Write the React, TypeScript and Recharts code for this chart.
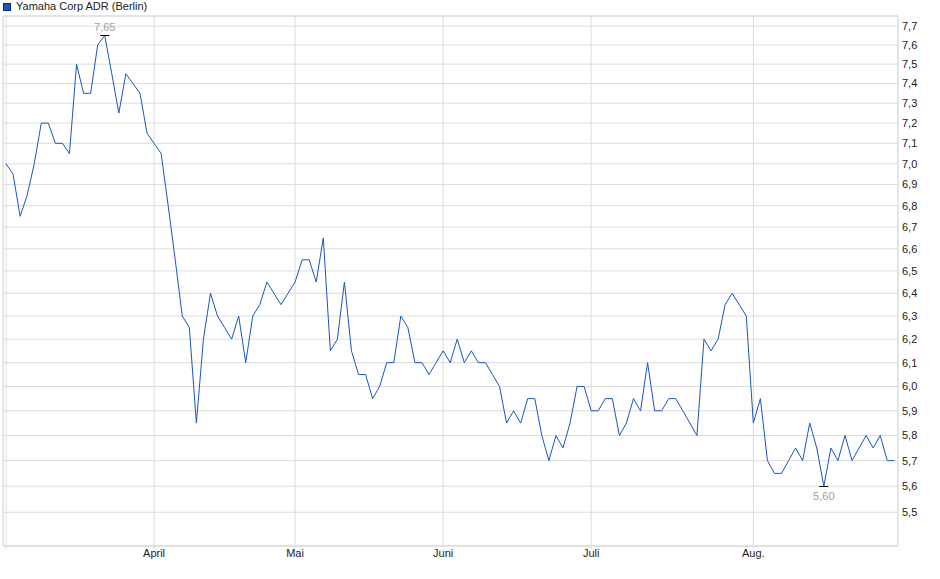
import React from "react";
import {
  LineChart,
  Line,
  XAxis,
  YAxis,
  CartesianGrid,
  ReferenceArea,
} from "recharts";

const TITLE = "Yamaha Corp ADR (Berlin)";

const prices: number[] = [
  7.0, 6.95, 6.75, 6.85, 7.0, 7.2, 7.2, 7.1, 7.1, 7.05,
  7.5, 7.35, 7.35, 7.6, 7.65, 7.45, 7.25, 7.45, 7.4, 7.35,
  7.15, 7.1, 7.05, 6.8, 6.55, 6.3, 6.25, 5.85, 6.2, 6.4,
  6.3, 6.25, 6.2, 6.3, 6.1, 6.3, 6.35, 6.45, 6.4, 6.35,
  6.4, 6.45, 6.55, 6.55, 6.45, 6.65, 6.15, 6.2, 6.45, 6.15,
  6.05, 6.05, 5.95, 6.0, 6.1, 6.1, 6.3, 6.25, 6.1, 6.1,
  6.05, 6.1, 6.15, 6.1, 6.2, 6.1, 6.15, 6.1, 6.1, 6.05,
  6.0, 5.85, 5.9, 5.85, 5.95, 5.95, 5.8, 5.7, 5.8, 5.75,
  5.85, 6.0, 6.0, 5.9, 5.9, 5.95, 5.95, 5.8, 5.85, 5.95,
  5.9, 6.1, 5.9, 5.9, 5.95, 5.95, 5.9, 5.85, 5.8, 6.2,
  6.15, 6.2, 6.35, 6.4, 6.35, 6.3, 5.85, 5.95, 5.7, 5.65,
  5.65, 5.7, 5.75, 5.7, 5.85, 5.75, 5.6, 5.75, 5.7, 5.8,
  5.7, 5.75, 5.8, 5.75, 5.8, 5.7, 5.7,
];

const monthTickIdx: number[] = [0, 21, 41, 62, 83, 106];
const monthLabels: string[] = ["", "April", "Mai", "Juni", "Juli", "Aug."];

const yTicks: number[] = [
  5.5, 5.6, 5.7, 5.8, 5.9, 6.0, 6.1, 6.2, 6.3, 6.4, 6.5, 6.6,
  6.7, 6.8, 6.9, 7.0, 7.1, 7.2, 7.3, 7.4, 7.5, 7.6, 7.7,
];

const X_DOMAIN: [number, number] = [-0.43, 126.52];
const Y_DOMAIN: [number, number] = [5.373, 7.754];

const LINE_COLOR = "#1a56c0";
const GRID_COLOR = "#dcdcdc";
const FONT = "'Liberation Sans', Arial, sans-serif";

const data = prices.map((p, i) => ({ i, price: p }));

const maxIdx = prices.indexOf(Math.max(...prices));
const minIdx = prices.indexOf(Math.min(...prices));

const fmt = (v: number, d = 1) => v.toFixed(d).replace(".", ",");

const ExtremeDot = (props: any) => {
  const { cx, cy, index, value } = props;
  if (index !== maxIdx && index !== minIdx) {
    return <g key={`d${index}`} />;
  }
  const isMax = index === maxIdx;
  return (
    <g key={`d${index}`}>
      <line
        x1={cx - 4.5}
        x2={cx + 4.5}
        y1={Math.round(cy) + (isMax ? -0.5 : 0.5)}
        y2={Math.round(cy) + (isMax ? -0.5 : 0.5)}
        stroke="#000"
        strokeWidth={1}
      />
      <text
        x={cx}
        y={isMax ? cy - 5 : cy + 14}
        textAnchor="middle"
        fill="#a0a0a0"
        fontSize={11}
        fontFamily={FONT}
      >
        {fmt(Array.isArray(value) ? value[1] : value, 2)}
      </text>
    </g>
  );
};

export default function App() {
  return (
    <div
      style={{
        position: "absolute",
        left: 0,
        top: 0,
        width: 940,
        height: 579,
        background: "#fff",
        fontFamily: FONT,
      }}
    >
      <div
        style={{
          position: "absolute",
          left: 3,
          top: 3,
          width: 6,
          height: 6,
          background: LINE_COLOR,
          border: "1px solid #0b2c74",
        }}
      />
      <div
        style={{
          position: "absolute",
          left: 16,
          top: -1,
          fontSize: 11,
          lineHeight: "14px",
          color: "#222",
          whiteSpace: "nowrap",
        }}
      >
        {TITLE}
      </div>
      <LineChart
        width={940}
        height={579}
        data={data}
        margin={{ top: 16, right: 0, bottom: 0, left: 3 }}
      >
        <CartesianGrid stroke={GRID_COLOR} strokeWidth={1} />
        <XAxis
          type="number"
          dataKey="i"
          domain={X_DOMAIN}
          allowDataOverflow
          ticks={monthTickIdx}
          interval={0}
          tickFormatter={(v: number) => monthLabels[monthTickIdx.indexOf(v)] ?? ""}
          height={33}
          tickSize={3}
          tickMargin={0}
          axisLine={{ stroke: GRID_COLOR }}
          tickLine={{ stroke: GRID_COLOR }}
          tick={{ fill: "#222", fontSize: 11, fontFamily: FONT }}
        />
        <YAxis
          orientation="right"
          scale="log"
          domain={Y_DOMAIN}
          allowDataOverflow
          ticks={yTicks}
          interval={0}
          width={42}
          axisLine={false}
          tickLine={false}
          tickSize={2}
          tickMargin={2}
          tickFormatter={(v: number) => fmt(v, 1)}
          tick={{ fill: "#222", fontSize: 11, fontFamily: FONT }}
        />
        <ReferenceArea
          x1={X_DOMAIN[0]}
          x2={X_DOMAIN[1]}
          y1={Y_DOMAIN[0]}
          y2={Y_DOMAIN[1]}
          fill="none"
          stroke={GRID_COLOR}
          strokeWidth={1}
          ifOverflow="visible"
        />
        <Line
          type="linear"
          dataKey="price"
          stroke={LINE_COLOR}
          strokeWidth={1}
          dot={ExtremeDot}
          activeDot={false}
          isAnimationActive={false}
        />
      </LineChart>
    </div>
  );
}
